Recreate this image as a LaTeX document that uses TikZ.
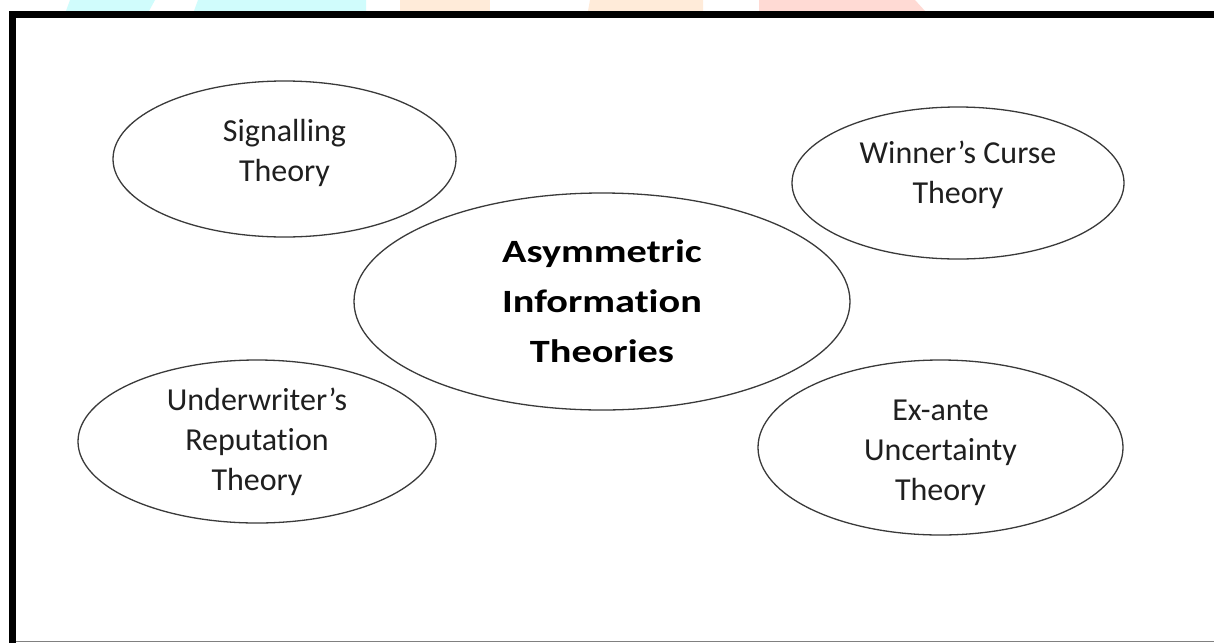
\documentclass[tikz,border=0pt]{standalone}
\usepackage{fontspec}
\setmainfont{Carlito}[Ligatures=NoCommon]
\newfontfamily\cbold[FakeStretch=1.24,Ligatures=NoCommon]{Carlito}
\usetikzlibrary{shapes.geometric}
\definecolor{wmcyan}{HTML}{D0FCFC}
\definecolor{wmpeach}{HTML}{FFEBD9}
\definecolor{wmpink}{HTML}{FFDAD4}
\definecolor{inkgray}{HTML}{3A3A3A}
\newcommand\liftby[1]{\rule[-#1]{0pt}{0pt}}
\begin{document}
\begin{tikzpicture}[x=1pt,y=-1pt,
  bubble/.style={ellipse, draw=inkgray, line width=1.3pt, inner sep=0pt,
    align=center, text=black!88, font=\fontsize{32}{40}\selectfont},
  mainbubble/.style={bubble, font=\cbold\bfseries\fontsize{32.5}{50}\selectfont, text=black},
  frame/.style={fill=black},
  wm/.style={draw=none}]
\useasboundingbox (0,0) rectangle (1214,643);
\fill[white] (0,0) rectangle (1214,643);
% faint watermark fragments at the top edge
\fill[wm, wmcyan] (66,11) -- (70,0) -- (155,0) -- (149,11) -- cycle;
\fill[wm, wmcyan] (194,11) -- (198,0) -- (366,0) -- (366,11) -- cycle;
\fill[wm, wmpeach] (400,11) -- (400,0) -- (490,0) -- (490,11) -- cycle;
\fill[wm, wmpeach] (588,11) -- (590,0) -- (703,0) -- (703,11) -- cycle;
\fill[wm, wmpink] (759,11) -- (759,0) -- (915,0) -- (925,11) -- cycle;
% frame
\fill[frame] (9,11) rectangle (1214,18);
\fill[frame] (9,11) rectangle (16,643);
\draw[gray, line width=1pt] (16,641) -- (1214,641);
% bubbles
\node[bubble, minimum width=343pt, minimum height=156pt] (sig) at (284.5,159)
  {Signalling\\Theory\liftby{18pt}};
\node[bubble, minimum width=332pt, minimum height=152pt] (win) at (958,183)
  {Winner’s Curse\\Theory\liftby{22pt}};
\node[mainbubble, minimum width=496pt, minimum height=217pt] (ait) at (602,301.5)
  {Asymmetric\\Information\\Theories};
\node[bubble, minimum width=358pt, minimum height=163pt] (und) at (257,441.5)
  {Underwriter’s\\Reputation\\Theory};
\node[bubble, minimum width=365pt, minimum height=175pt] (exa) at (940.5,447.5)
  {\rule{0pt}{32pt}Ex-ante\\Uncertainty\\Theory};
\end{tikzpicture}
\end{document}
